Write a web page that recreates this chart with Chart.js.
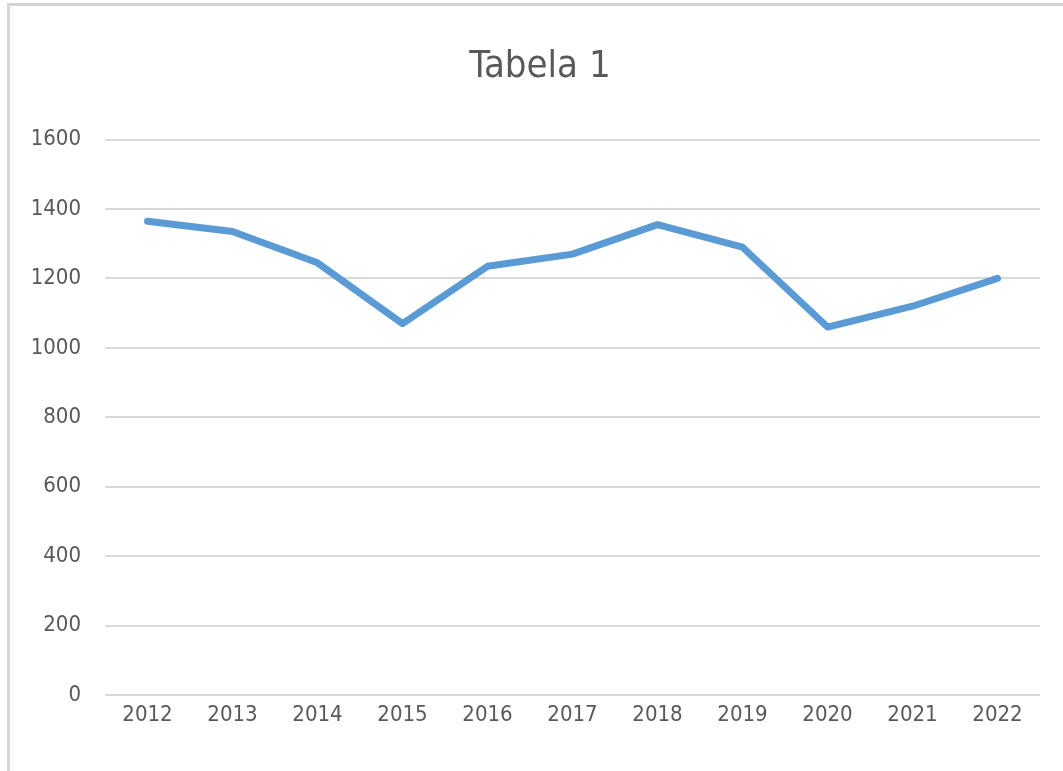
<!DOCTYPE html>
<html>
<head>
<meta charset="utf-8">
<script src="https://cdn.jsdelivr.net/npm/chart.js@4"></script>
<style>
  html, body { margin: 0; padding: 0; background: #fff; }
  #wrap { position: relative; width: 1063px; height: 771px; }
  #frameTop { position: absolute; left: 7px; top: 3px; width: 1056px; height: 3px; background: #d2d2d2; }
  #frameLeft { position: absolute; left: 7px; top: 3px; width: 3px; height: 768px; background: #d6d6d6; }
  canvas { position: absolute; left: 0; top: 0; }
</style>
</head>
<body>
<div id="wrap">
  <canvas id="Tabela" width="1063" height="771"></canvas>
  <div id="frameTop"></div>
  <div id="frameLeft"></div>
</div>
<script>
const years = ["2012", "2013", "2014", "2015", "2016", "2017", "2018", "2019", "2020", "2021", "2022"];
const values = [1365, 1335, 1245, 1070, 1235, 1270, 1355, 1290, 1060, 1120, 1200];
const yTicks = [0, 200, 400, 600, 800, 1000, 1200, 1400, 1600];

const font = "'Liberation Sans Narrow', 'DejaVu Sans Condensed', sans-serif";

// title sits a little right of the canvas centre in the original
const shiftTitle = {
  id: "shiftTitle",
  afterLayout(chart) {
    if (chart.titleBlock) chart.titleBlock.left += 40;
  },
};

document.addEventListener("DOMContentLoaded", () => {
  const ctx = document.getElementById("Tabela").getContext("2d");
  new Chart(ctx, {
    type: "line",
    data: {
      labels: years,
      datasets: [
        {
          label: "Tabela 1",
          data: values,
          borderColor: "#5B9BD5",
          borderWidth: 7,
          borderCapStyle: "round",
          borderJoinStyle: "round",
          pointRadius: 0,
          tension: 0,
          fill: false,
        },
      ],
    },
    options: {
      responsive: false,
      animation: false,
      layout: { padding: { left: 0, right: 23, top: 0, bottom: 0 } },
      plugins: {
        legend: { display: false },
        tooltip: { enabled: false },
        title: {
          display: true,
          text: "Tabela 1",
          color: "#595959",
          font: { family: font, size: 38, weight: "normal" },
          padding: { top: 44, bottom: 50 },
        },
      },
      scales: {
        x: {
          offset: true,
          grid: { display: false, drawTicks: false },
          border: { display: false },
          ticks: {
            color: "#595959",
            font: { family: font, size: 22 },
            padding: 7,
            maxRotation: 0,
          },
          afterFit: (scale) => { scale.height = 76; },
        },
        y: {
          min: 0,
          max: 1600,
          afterBuildTicks: (scale) => {
            scale.ticks = yTicks.map((v) => ({ value: v }));
          },
          grid: { color: "#D9D9D9", lineWidth: 2, drawTicks: false },
          border: { display: false },
          ticks: {
            color: "#595959",
            font: { family: font, size: 22 },
            padding: 24,
            callback: (v) => String(v),
          },
          afterFit: (scale) => { scale.width = 105; },
        },
      },
    },
    plugins: [shiftTitle],
  });
});
</script>
</body>
</html>
